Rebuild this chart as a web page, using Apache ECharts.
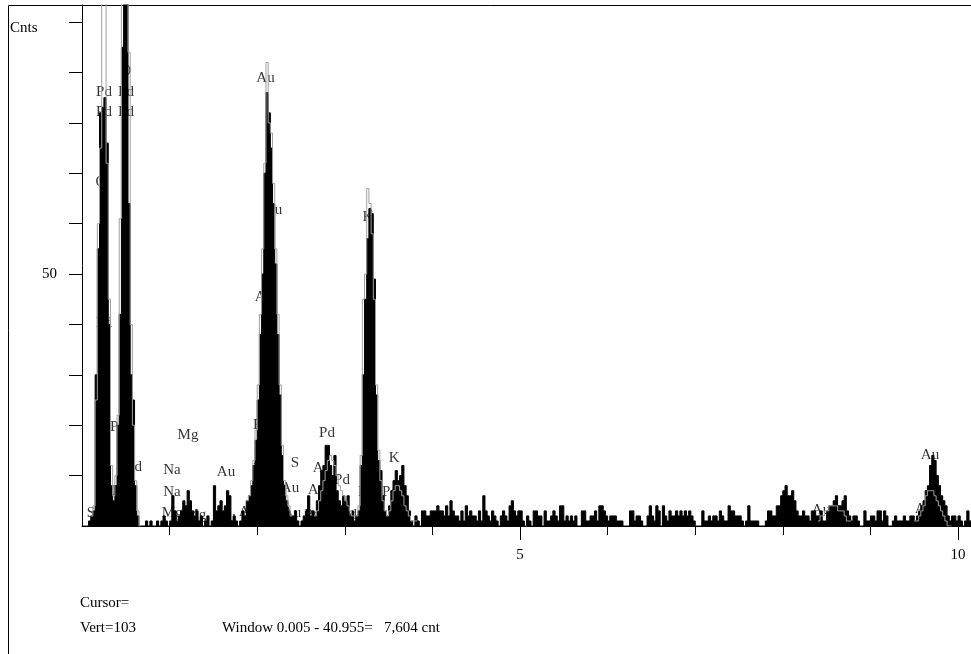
<!DOCTYPE html>
<html><head><meta charset="utf-8">
<script src="https://cdn.jsdelivr.net/npm/echarts@6/dist/echarts.min.js"></script>
<style>html,body{margin:0;padding:0;background:#fff}#c{width:971px;height:654px}</style>
</head><body><div id="c"></div>
<script>
// Energy bin width in keV
const binWidth = 0.025;
// Spectrum counts per bin (bins 0-99, 100-199, 200-299, 300-405)
const countsA = [0,0,0,1,2,3,30,55,82,83, 85,76,40,8,5,8,20,42,95,110, 110,64,30,25,8,2,0,0,0,1, 0,1,0,0,1,0,1,2,1,0,
  1,6,3,1,2,3,5,4,7,5, 3,2,3,1,2,0,1,2,0,1, 8,3,4,5,3,4,7,6,1,2, 1,0,1,3,2,5,6,8,12,17,
  25,38,50,70,86,82,75,64,52,38, 26,14,8,5,3,2,2,3,1,0];
const countsB = [1,2,3,6,2,3,2,5,8,11, 12,16,16,12,10,14,7,5,4,6, 5,6,2,3,1,2,3,12,30,45, 57,63,62,49,26,13,11,6,3,2,
  4,7,9,11,9,10,12,8,6,3, 1,0,2,1,0,3,3,2,2,3, 3,3,4,3,3,2,4,2,5,3, 2,2,1,3,1,4,2,3,2,2,
  1,3,1,6,3,2,1,3,2,1, 0,2,3,2,1,4,5,3,2,3];
const countsC = [3,1,0,2,1,0,3,3,2,2, 0,3,1,1,2,3,2,1,4,4, 1,2,1,2,1,2,0,0,3,3, 1,1,2,2,3,1,4,4,3,2,
  1,2,2,2,1,1,1,0,0,0, 3,3,1,2,2,1,0,0,2,4, 2,1,4,3,0,4,2,1,3,2, 2,3,2,3,2,3,2,3,2,1,
  0,0,0,3,1,1,2,1,2,2, 1,3,2,1,1,4,3,3,2,2];
const countsD = [2,1,0,1,4,1,1,1,1,0, 0,0,1,3,3,2,2,4,4,6, 7,8,6,6,7,5,3,2,2,3, 2,2,1,3,3,2,2,3,1,1,
  3,4,4,5,6,4,4,5,6,3, 2,1,2,2,1,0,0,3,1,1, 2,2,1,3,3,1,3,2,0,0, 1,2,1,1,1,2,1,1,2,2,
  1,2,3,4,5,7,8,12,14,13, 10,8,6,5,4,2,1,2,2,1, 2,1,0,1,3,1];

// Grey overlay spectrum segments (first bin index of each segment)
const overlayStartBins = [4, 75, 106, 125, 336, 380];
const overlayLowE = [2,4,25,60,75,110,110,72,45,12, 6,10,22,61,110,110,110,94,40,20, 9,3,0];
const overlayAuM = [5,6,9,13,19,28,42,55,72,92,80,78,68,55,42,28,16,9,6,4,2];
const overlayPdL = [2,3,5,7,9,11,13,14,13,12,10,8,7,6,5,4,3,2,2];
const overlayK = [2,4,14,45,50,67,64,58,45,28,15,9,5,3,2,3,5,7,8,8,7,6,4,3,2,1,1,1];
const overlayAu86 = [1,2,2,3,3,4,4,4,4,3,3,3,2,1,1];
const overlayAuL = [1,1,2,3,4,6,7,7,7,6,5,4,3,2,1,0,0];

// Element marker labels
const markerNames = ["Pd","Pd","Pd","Pd","O","O","Pd","Pd","Pd","Pd","Si","Mg","Na","Na","Mg","Mg","Au","Au","Au",
  "Pd","Pd","Au","Au","Au","S","S","Au","Au","Pd","Pd","Au","Au","Pd","Pd","K","K","Pd","Pd","Au","Au","Au"];
const markerEnergy = [0.251,0.502,0.251,0.502,0.502,0.217,0.251,0.411,0.434,0.594,0.126,1.21,1.027,1.027,1.03,1.30,1.644,1.65,1.895,
  2.043,2.043,2.095,2.18,2.078,2.237,2.43,2.374,2.397,2.626,2.797,2.74,2.683,2.968,3.05,3.265,3.562,3.242,3.516,8.436,9.68,9.61];
const markerCount = [86.1,86.1,82.1,82.1,90.3,68.3,40.3,19.6,6.9,11.7,2.6,18,11.1,6.7,2.6,2.2,10.7,1.8,2.8,
  20,11.3,88.9,62.7,45.4,24.4,12.5,7.5,2.6,2.2,18.5,11.5,7.1,9.1,2.2,61.3,13.5,6.7,6.7,3.2,14.1,3.4];

// Axis ticks and labels
const xMinorTicks = [1,2,3,4,6,7,8,9];
const xMajorTicks = [5,10];
const xLabels = [5,10];
const yTicks = [10,20,30,40,50,60,70,80,90,100];
const yLabels = [50];

const counts = countsA.concat(countsB, countsC, countsD);
function stepData(vals, startBin) {
  const d = vals.map((v, i) => [(startBin + i) * binWidth, v]);
  d.push([(startBin + vals.length) * binWidth, vals[vals.length - 1]]);
  return d;
}
const overlays = [overlayLowE, overlayAuM, overlayPdL, overlayK, overlayAu86, overlayAuL];
const FONT = "'Liberation Serif','Times New Roman',serif";

const series = [
  {
    type: 'scatter', z: 1, silent: true, symbolSize: 1,
    itemStyle: {color: 'rgba(0,0,0,0)'},
    label: {show: true, position: 'inside', formatter: '{b}', color: '#000', fontFamily: FONT, fontSize: 15},
    data: markerNames.map((n, i) => ({name: n, value: [markerEnergy[i], markerCount[i]]}))
  },
  {
    type: 'line', step: 'end', z: 3, silent: true, symbol: 'none',
    lineStyle: {color: '#000', width: 1},
    areaStyle: {color: '#000', opacity: 1},
    data: stepData(counts, 0)
  }
];
overlays.forEach((o, k) => series.push({
  type: 'line', step: 'end', z: 4, silent: true, symbol: 'none',
  lineStyle: {color: '#a0a0a0', width: 1},
  data: stepData(o, overlayStartBins[k])
}));

const chart = echarts.init(document.getElementById('c'), null, {renderer: 'canvas'});
chart.setOption({
  animation: false,
  backgroundColor: '#fff',
  grid: {left: 82, top: 5, right: 0, bottom: 128, containLabel: false},
  xAxis: [
    {type: 'value', min: 0, max: 10.148, position: 'bottom',
     axisLine: {show: true, lineStyle: {color: '#000', width: 1}},
     axisTick: {show: true, customValues: xMinorTicks, length: 9, lineStyle: {color: '#000'}},
     axisLabel: {show: false}, splitLine: {show: false}},
    {type: 'value', min: 0, max: 10.148, position: 'bottom',
     axisLine: {show: false},
     axisTick: {show: true, customValues: xMajorTicks, length: 14, lineStyle: {color: '#000'}},
     axisLabel: {show: true, customValues: xLabels, margin: 22, color: '#000', fontFamily: FONT, fontSize: 15},
     splitLine: {show: false}}
  ],
  yAxis: {type: 'value', min: 0, max: 103.4,
    axisLine: {show: true, lineStyle: {color: '#000', width: 1}},
    axisTick: {show: true, customValues: yTicks, length: 13, lineStyle: {color: '#000'}},
    axisLabel: {show: true, customValues: yLabels, margin: 25, color: '#000', fontFamily: FONT, fontSize: 15},
    splitLine: {show: false}},
  graphic: [
    {type: 'rect', silent: true, shape: {x: 8.5, y: 5.5, width: 2000, height: 2000}, style: {fill: 'none', stroke: '#000', lineWidth: 1}},
    {type: 'text', x: 10, y: 28, style: {text: 'Cnts', font: "15px " + FONT, fill: '#000', textVerticalAlign: 'middle'}},
    {type: 'text', x: 80, y: 603, style: {text: 'Cursor=', font: "15px " + FONT, fill: '#000', textVerticalAlign: 'middle'}},
    {type: 'text', x: 80, y: 628, style: {text: 'Vert=103', font: "15px " + FONT, fill: '#000', textVerticalAlign: 'middle'}},
    {type: 'text', x: 222, y: 628, style: {text: 'Window 0.005 - 40.955=\u00a0\u00a0\u00a07,604 cnt', font: "15px " + FONT, fill: '#000', textVerticalAlign: 'middle'}}
  ],
  series: series
});
</script></body></html>
